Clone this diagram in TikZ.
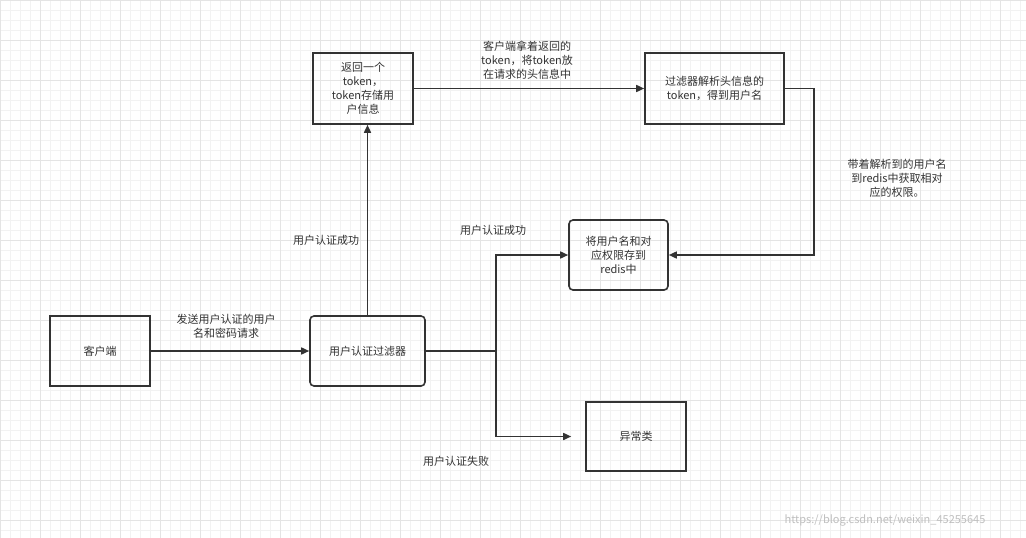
\documentclass[tikz,border=0pt]{standalone}
\usepackage{fontspec}
\setmainfont{Noto Sans CJK SC}
\usetikzlibrary{arrows.meta}
\definecolor{ln}{HTML}{333333}
\definecolor{gmin}{HTML}{F2F2F2}
\definecolor{gmaj}{HTML}{E4E4E4}
\begin{document}
\begin{tikzpicture}[x=1pt,y=-1pt,
  box/.style={draw=ln,line width=1.6pt,minimum width=#1,align=center,font=\fontsize{11}{14}\selectfont,text=ln,inner sep=1pt},
  rbox/.style={box=#1,rounded corners=4pt},
  conn/.style={draw=ln,line width=1.6pt,-{Triangle[length=8pt,width=7pt]}},
  lbl/.style={align=center,font=\fontsize{11}{14}\selectfont,text=ln}]
\useasboundingbox (0,0) rectangle (1026,538);
\fill[white] (0,0) rectangle (1026,538);
\foreach \i in {0,10,...,1020} \draw[gmin,line width=0.6pt] (\i,0)--(\i,538);
\foreach \j in {0,10,...,530} \draw[gmin,line width=0.6pt] (0,\j)--(1026,\j);
\foreach \i in {0,40,...,1020} \draw[gmaj,line width=0.8pt] (\i,0)--(\i,538);
\foreach \j in {0,40,...,530} \draw[gmaj,line width=0.8pt] (0,\j)--(1026,\j);

\node[box=100pt,minimum height=70pt] (client) at (100,351) {客户端};
\node[rbox=115pt,minimum height=70pt] (filter) at (367.5,351) {用户认证过滤器};
\node[box=100pt,minimum height=71pt,text width=80pt] (ret) at (363,88.5) {返回一个\\token，\\token存储用\\户信息};
\node[box=139pt,minimum height=71pt] (parse) at (714.5,88.5) {过滤器解析头信息的\\token，得到用户名};
\node[rbox=99pt,minimum height=70pt] (redis) at (618.5,255) {将用户名和对\\应权限存到\\redis中};
\node[box=100pt,minimum height=69pt] (err) at (636,436.5) {异常类};

\coordinate (j) at (496,351);
\coordinate (pr) at (814,88.5);

\draw[conn] (filter.north) -- (filter.north |- ret.south);
\draw[conn] (client) -- (filter);
\draw[conn] (ret) -- (parse);
\draw[conn] (parse.east) -- (pr) |- (redis.east);
\draw[draw=ln,line width=1.6pt] (filter.east) -- (j);
\draw[conn] (j) |- (redis.west);
\draw[conn] (j) |- ([xshift=-14pt]err.west);

\node[lbl] (l1) at (226,326) {发送用户认证的用户\\名和密码请求};
\node[lbl] (l2) at (326,240) {用户认证成功};
\node[lbl] (l3) at (527,60) {客户端拿着返回的\\token，将token放\\在请求的头信息中};
\node[lbl] (l4) at (897,178) {带着解析到的用户名\\到redis中获取相对\\应的权限。};
\node[lbl] (l5) at (493,230) {用户认证成功};
\node[lbl] (l6) at (456,461) {用户认证失败};
\node[font=\fontsize{11}{12}\selectfont,text=black!25] (wm) at (885,520) {https://blog.csdn.net/weixin\_45255645};
\end{tikzpicture}
\end{document}
